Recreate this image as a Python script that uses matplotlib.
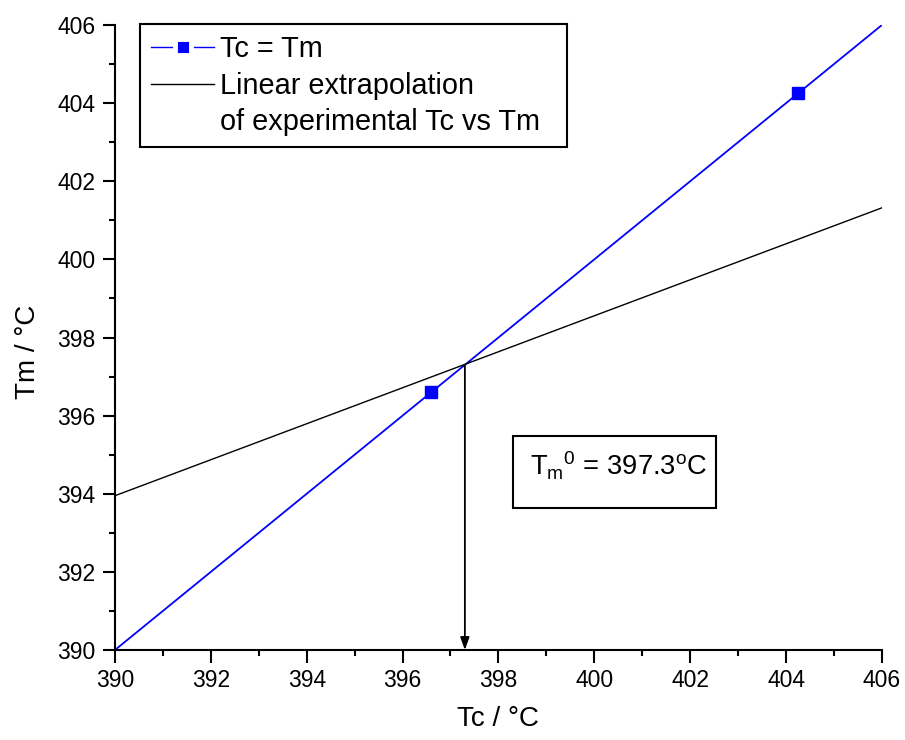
import matplotlib
matplotlib.use("Agg")
import matplotlib.pyplot as plt
from matplotlib.ticker import MultipleLocator
from matplotlib.lines import Line2D
from matplotlib.patches import Rectangle

plt.rcParams['font.family'] = ['Liberation Sans', 'DejaVu Sans']
plt.rcParams['mathtext.fontset'] = 'custom'
plt.rcParams['mathtext.rm'] = 'Liberation Sans'
plt.rcParams['mathtext.it'] = 'Liberation Sans'

# Data
identity_x = [390, 406]
identity_y = [390, 406]
marker_x = [396.6, 404.25]
marker_y = [396.6, 404.25]
extrap_x = [390, 406]
extrap_y = [393.95, 401.32]
tm0 = 397.3
legend_labels = ['Tc = Tm', 'Linear extrapolation', 'of experimental Tc vs Tm  ']

fig = plt.figure(figsize=(9.05, 7.4), dpi=100)
ax = fig.add_axes([0.127, 0.1216, 0.8475, 0.8446])

ax.plot(identity_x, identity_y, color='#0000ff', lw=1.3)
ax.plot(marker_x, marker_y, ls='none', marker='s', ms=8.6, color='#0000ff')
ax.plot(extrap_x, extrap_y, color='black', lw=1.0)

h1 = Line2D([], [], color='#0000ff', lw=1.0, marker='s', ms=11, mfc='#0000ff',
            mec='white', mew=3.5)
h2 = Line2D([], [], color='black', lw=1.0)
h3 = Line2D([], [], color='none', lw=0)

ax.annotate('', xy=(tm0, 390), xytext=(tm0, tm0),
            arrowprops=dict(arrowstyle='-|>,head_length=0.5,head_width=0.18',
                            color='black', lw=1.3,
                            mutation_scale=15, shrinkA=0, shrinkB=0))

# annotation box
ax.add_patch(Rectangle((0.519, 0.2272), 0.2645, 0.1152, transform=ax.transAxes,
                       fill=True, fc='white', ec='black', lw=1.5, zorder=5))
ax.text(0.541, 0.28, r'T$_\mathregular{m}$$^\mathregular{0}$ = 397.3$^\mathregular{o}$C',
        transform=ax.transAxes, fontsize=19.7, ha='left', va='baseline', zorder=6)

ax.set_xlim(390, 406)
ax.set_ylim(390, 406)
ax.xaxis.set_major_locator(MultipleLocator(2))
ax.xaxis.set_minor_locator(MultipleLocator(1))
ax.yaxis.set_major_locator(MultipleLocator(2))
ax.yaxis.set_minor_locator(MultipleLocator(1))
for s in ['top', 'right']:
    ax.spines[s].set_visible(False)
for s in ['left', 'bottom']:
    ax.spines[s].set_linewidth(1.5)
ax.tick_params(which='major', direction='out', length=9, width=1.5, labelsize=16.5, pad=5)
ax.tick_params(which='minor', direction='out', length=4.5, width=1.5)

ax.set_xlabel('Tc / °C', fontsize=20, labelpad=10)
ax.set_ylabel('Tm / °C', fontsize=20)
ax.yaxis.set_label_coords(-0.096, 0.477)

leg = ax.legend(handles=[h1, h2, h3], labels=legend_labels, loc='upper left',
                bbox_to_anchor=(0.0326, 1.0016),
                fontsize=20.8, frameon=True, fancybox=False, edgecolor='black',
                handlelength=2.2, handletextpad=0.2, borderpad=0.38,
                labelspacing=0.3, borderaxespad=0, framealpha=1)
leg.get_frame().set_linewidth(1.5)

fig.savefig('out.png', dpi=100)
